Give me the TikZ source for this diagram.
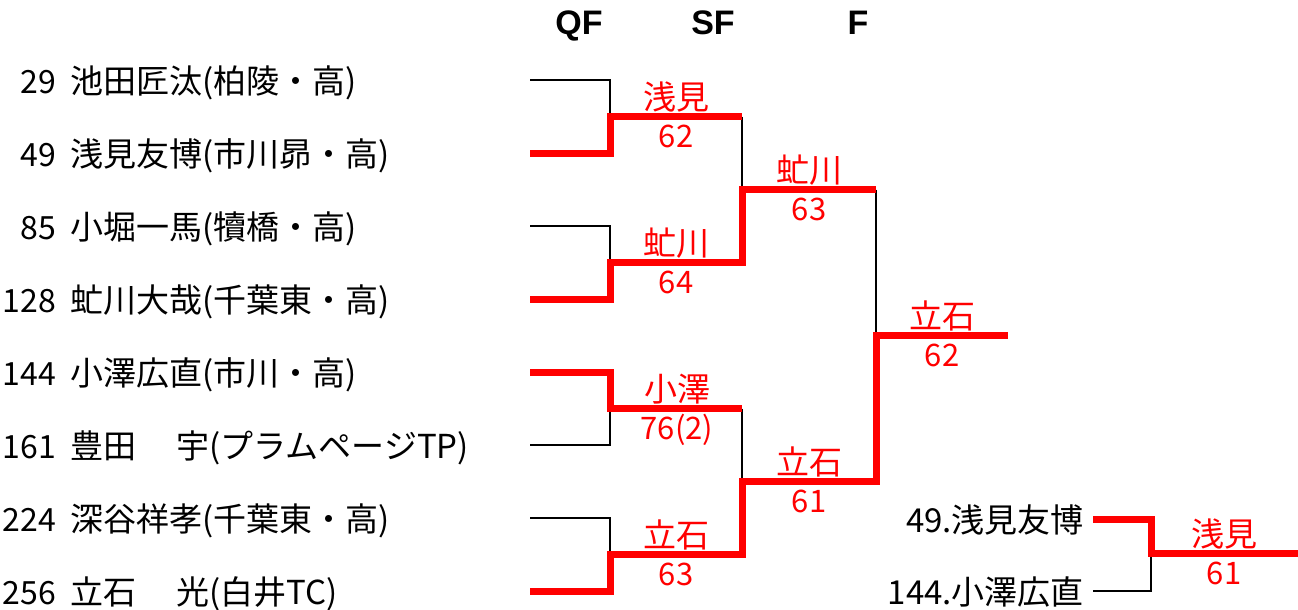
\documentclass[tikz,border=0pt]{standalone}
\usepackage{fontspec}
\setmainfont{Noto Sans CJK JP}
\newfontfamily\hdfont{Liberation Sans}
\usetikzlibrary{positioning}

\begin{document}
\begin{tikzpicture}[x=1pt, y=-1pt,
		round/.style={anchor=base, inner sep=0pt, font=\hdfont\bfseries\fontsize{34}{34}\selectfont},
		seed/.style={anchor=base east, inner sep=0pt, font=\fontsize{32}{32}\selectfont},
		player/.style={anchor=base west, inner sep=0pt, font=\fontsize{33}{33}\selectfont},
		who/.style={anchor=base, inner sep=0pt, text=red, font=\fontsize{33}{33}\selectfont},
		score/.style={anchor=base, inner sep=0pt, text=red, font=\fontsize{31}{31}\selectfont},
		lose/.style={draw=black, line width=2.4pt},
		win/.style={draw=red, line width=7pt, line join=miter}
		]
		\useasboundingbox (0,0) rectangle (1298,610);

		% rounds
		\node[round] (qf) at (579,35) {QF};
		\node[round] (sf) at (713,35) {SF};
		\node[round] (fi) at (858,35) {F};

		% players
		\foreach \n/\y/\num/\who in {1/80/29/{池田匠汰(柏陵・高)}, 2/153/49/{浅見友博(市川昴・高)},
				3/226/85/{小堀一馬(犢橋・高)}, 4/299/128/{虻川大哉(千葉東・高)},
				5/372/144/{小澤広直(市川・高)}, 6/445/161/{豊田　 宇(プラムページTP)},
				7/518/224/{深谷祥孝(千葉東・高)}, 8/591/256/{立石　 光(白井TC)}} {
			\coordinate (p\n) at (530,\y);
			\node[seed] (num\n) at (56,{\y+13}) {\num};
			\node[player] (n\n) at (70,{\y+13}) {\who};
		}

		% bracket points
		\coordinate (a1) at (610,116.5);
		\coordinate (a2) at (610,262.5);
		\coordinate (a3) at (610,408.5);
		\coordinate (a4) at (610,554.5);
		\coordinate (b1) at (742,189.5);
		\coordinate (b2) at (742,481.5);
		\coordinate (c1) at (876,335.5);
		\coordinate (champ) at (1008,335.5);

		\draw[lose] (p1) -| (a1);
		\draw[lose] (p3) -| (a2);
		\draw[lose] (p6) -| (a3);
		\draw[lose] (p7) -| (a4);
		\draw[lose] (a1 -| b1) -- (b1);
		\draw[lose] (a3 -| b2) -- (b2);
		\draw[lose] (b1 -| c1) -- (c1);

		\draw[win] (p2) -| (a1) -- (a1 -| b1);
		\draw[win] (p4) -| (a2) -- (a2 -| b1) -- (b1) -- (b1 -| c1);
		\draw[win] (p5) -| (a3) -- (a3 -| b2);
		\draw[win] (p8) -| (a4) -- (a4 -| b2) -- (b2) -- (b2 -| c1) -- (c1) -- (champ);

		% play-off
		\node[anchor=base east, inner sep=0pt, font=\fontsize{33}{33}\selectfont] (fa) at (1084,532) {49.浅見友博};
		\node[anchor=base east, inner sep=0pt, font=\fontsize{33}{33}\selectfont] (fb) at (1084,604) {144.小澤広直};
		\coordinate (r1) at (1093,519);
		\coordinate (r2) at (1093,591);
		\coordinate (rj) at (1151,553);
		\coordinate (re) at (1298,553);
		\draw[lose] (r2) -| (rj);
		\draw[win] (r1) -| (rj) -- (re);

		% winners and scores
		\foreach \id/\x/\y/\who/\sc in {1/676/116.5/浅見/62, 2/676/262.5/虻川/64, 3/677/408.5/小澤/76(2),
				4/676/554.5/立石/63, 5/809/189.5/虻川/63, 6/809/481.5/立石/61,
				7/942/335.5/立石/62, 8/1224/553/浅見/61} {
			\node[who] (w\id) at (\x,{\y-7}) {\who};
			\node[score] (s\id) at (\x,{\y+31}) {\sc};
		}
	\end{tikzpicture}
\end{document}
